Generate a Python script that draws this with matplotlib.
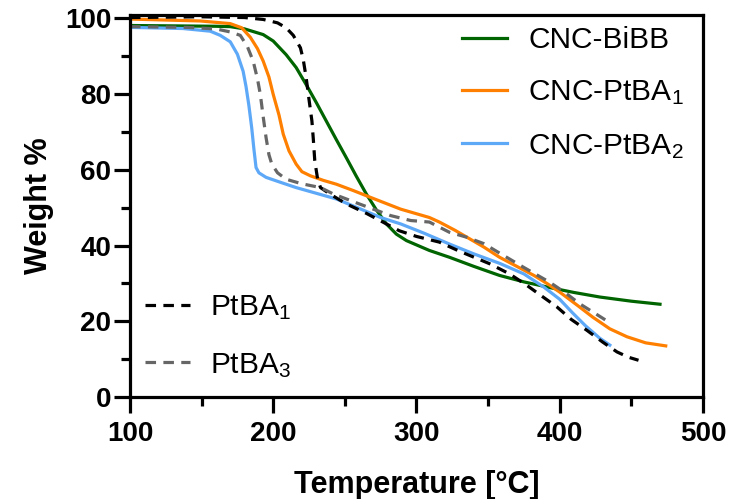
import matplotlib
matplotlib.use("Agg")
import matplotlib.pyplot as plt
from matplotlib.ticker import MultipleLocator

plt.rcParams['font.family'] = ['Liberation Sans', 'DejaVu Sans']
plt.rcParams['mathtext.fontset'] = 'custom'
plt.rcParams['mathtext.rm'] = 'Liberation Sans'
plt.rcParams['mathtext.it'] = 'Liberation Sans'
plt.rcParams['mathtext.bf'] = 'Liberation Sans:bold'
plt.rcParams['mathtext.default'] = 'regular'

# CNC-BiBB
t_bibb = [100, 130, 160, 170, 180, 193, 200, 209, 216, 223, 230, 237, 244, 251, 258, 265, 272, 279, 286, 293, 301, 309, 323, 340, 358, 375, 393, 410, 428, 450, 470]
w_bibb = [98.1, 98.0, 97.9, 97.8, 97.2, 95.7, 94.0, 90.4, 87.0, 82.5, 77.8, 72.9, 68.0, 63.2, 58.3, 53.6, 49.4, 45.7, 43.0, 41.3, 40.0, 38.7, 36.9, 34.5, 32.1, 30.4, 28.9, 27.6, 26.4, 25.3, 24.5]

# CNC-PtBA1
t_p1 = [100, 149, 170, 178, 184, 189, 193, 197, 200, 204, 207, 211, 216, 220, 226, 235, 244, 256, 268, 289, 309, 316, 327, 337, 347, 358, 370, 382, 391, 400, 412, 423, 435, 447, 460, 474]
w_p1 = [99.8, 99.3, 98.6, 97.5, 95.0, 92.0, 88.7, 84.5, 79.9, 74.5, 69.4, 65.0, 61.5, 59.5, 58.4, 57.2, 56.2, 54.5, 52.7, 49.6, 47.4, 46.2, 44.0, 41.8, 39.6, 36.9, 34.5, 32.1, 30.0, 27.7, 24.3, 21.1, 18.0, 15.9, 14.3, 13.5]

# CNC-PtBA2
t_p2 = [100, 137, 156, 163, 170, 175, 179, 181, 183, 185, 186.5, 188, 190, 195, 205, 216, 230, 244, 260, 275, 289, 305, 323, 340, 358, 375, 389, 400, 409, 418, 428, 435]
w_p2 = [97.6, 97.3, 96.6, 95.5, 93.8, 90.5, 86.0, 82.0, 77.0, 71.0, 65.5, 60.6, 59.2, 58.0, 56.7, 55.3, 53.8, 52.3, 49.8, 47.4, 45.7, 43.3, 40.4, 37.8, 35.3, 32.5, 29.0, 25.8, 22.2, 18.8, 15.5, 13.7]

# PtBA1
t_a1 = [100, 150, 180, 193, 203, 209, 214, 219, 221, 223, 225, 227, 228, 229, 231, 233, 240, 251, 265, 277, 288, 300, 316, 330, 351, 365, 377, 388, 398, 408, 419, 430, 440, 448, 455]
w_a1 = [100.2, 100.4, 100.2, 99.7, 98.8, 97.5, 95.5, 92.2, 89.0, 84.3, 78.5, 72.9, 68.0, 62.4, 57.5, 55.3, 53.5, 51.0, 48.5, 46.1, 43.9, 42.4, 40.9, 38.5, 35.2, 32.5, 29.5, 26.5, 23.8, 20.5, 17.6, 14.5, 11.9, 10.5, 9.7]

# PtBA3
t_a3 = [100, 140, 160, 170, 177, 182, 186, 189, 191, 193, 195, 197, 199, 203, 209, 220, 233, 242, 260, 282, 296, 309, 323, 335, 347, 358, 375, 393, 404, 414, 425, 435]
w_a3 = [97.8, 97.6, 97.2, 96.4, 95.5, 92.5, 88.7, 84.0, 79.9, 74.0, 68.5, 64.0, 61.5, 59.2, 57.5, 56.3, 55.3, 53.6, 51.0, 47.9, 46.6, 46.2, 43.5, 42.2, 40.5, 38.0, 34.2, 30.3, 27.5, 24.6, 22.0, 19.6]

fig = plt.figure(figsize=(7.29, 4.99), dpi=100)
ax = fig.add_axes([0.1783, 0.2044, 0.786, 0.7665])

lw = 2.3
dash = (0, (3.3, 2.3))
l1, = ax.plot(t_bibb, w_bibb, color='#006400', lw=lw, label='CNC-BiBB')
l2, = ax.plot(t_p1, w_p1, color='#FF8000', lw=lw, label='CNC-PtBA$_1$')
l3, = ax.plot(t_p2, w_p2, color='#5EA8F8', lw=lw, label='CNC-PtBA$_2$')
l4, = ax.plot(t_a1, w_a1, color='black', lw=lw, ls=dash, label='PtBA$_1$')
l5, = ax.plot(t_a3, w_a3, color='#666666', lw=lw, ls=dash, label='PtBA$_3$')

ax.set_xlim(100, 500)
ax.set_ylim(0, 101)
ax.xaxis.set_major_locator(MultipleLocator(100))
ax.xaxis.set_minor_locator(MultipleLocator(50))
ax.yaxis.set_major_locator(MultipleLocator(20))
ax.yaxis.set_minor_locator(MultipleLocator(10))

for s in ax.spines.values():
    s.set_linewidth(2.3)
ax.tick_params(which='major', length=11.5, width=2.3, direction='out')
ax.tick_params(which='minor', length=6.5, width=2.3, direction='out')
ax.tick_params(axis='x', pad=6)
ax.tick_params(axis='y', pad=2)
ax.tick_params(labelsize=20)
for lab in ax.get_xticklabels() + ax.get_yticklabels():
    lab.set_fontweight('bold')

ax.set_xlabel('Temperature [°C]', fontsize=22, fontweight='bold', labelpad=16)
ax.set_ylabel('Weight %', fontsize=22, fontweight='bold', labelpad=8)

leg1 = ax.legend(handles=[l1, l2, l3], loc='upper left', frameon=False, fontsize=21.5,
                 handlelength=1.5, handletextpad=0.73, labelspacing=0.82,
                 borderpad=0, borderaxespad=0,
                 bbox_to_anchor=(0.579, 0.970))
ax.add_artist(leg1)
ax.legend(handles=[l4, l5], loc='upper left', frameon=False, fontsize=21.5,
          handlelength=1.5, handletextpad=0.67, labelspacing=0.97,
          borderpad=0, borderaxespad=0,
          bbox_to_anchor=(0.026, 0.272))

fig.savefig('out.png', dpi=100)
